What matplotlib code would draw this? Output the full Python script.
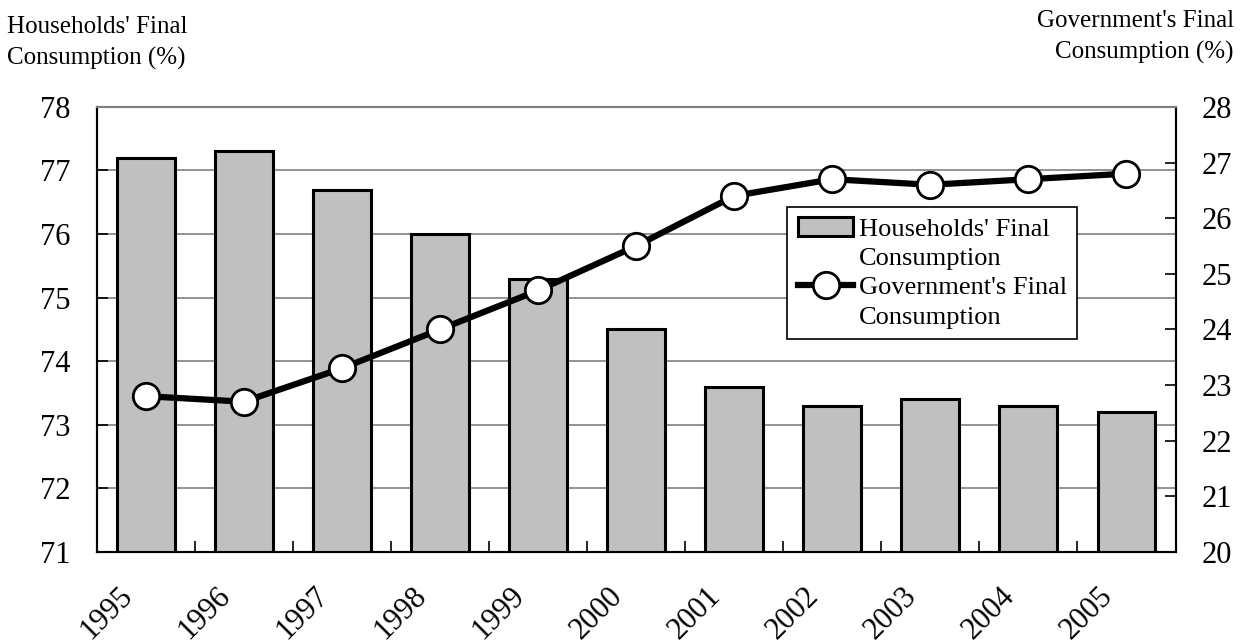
import matplotlib.pyplot as plt
import matplotlib.transforms as mtransforms
from matplotlib.patches import Patch
import numpy as np

plt.rcParams['font.family'] = ['Liberation Serif', 'DejaVu Serif']

years = ['1995', '1996', '1997', '1998', '1999', '2000',
         '2001', '2002', '2003', '2004', '2005']
households = [77.2, 77.3, 76.7, 76.0, 75.3, 74.5, 73.6, 73.3, 73.4, 73.3, 73.2]
government = [22.8, 22.7, 23.3, 24.0, 24.7, 25.5, 26.4, 26.7, 26.6, 26.7, 26.8]

x = np.arange(len(years))

fig = plt.figure(figsize=(12.4, 6.44), dpi=100)
ax = fig.add_axes([0.078, 0.143, 0.870, 0.691])
ax2 = ax.twinx()

# bars on the left axis
bars = ax.bar(x, households, width=0.59, bottom=0, color='#c0c0c0',
              edgecolor='black', linewidth=2.2, zorder=3)
ax.set_ylim(71, 78)
ax.set_xlim(-0.5, len(years) - 0.5)
ax.set_yticks(range(71, 79))
ax.yaxis.grid(True, color='#808080', linewidth=1.2, zorder=0)
ax.set_axisbelow(True)

# line on the right axis
line, = ax2.plot(x, government, color='black', linewidth=4.5, marker='o',
                 markersize=19, markerfacecolor='white', markeredgecolor='black',
                 markeredgewidth=2, zorder=4)
ax2.set_ylim(20, 28)
ax2.set_yticks(range(20, 29))

# x ticks at category boundaries, labels at centres
ax.set_xticks(np.arange(-0.5, len(years), 1.0))
ax.set_xticklabels([])
ax.set_xticks(x, minor=True)
ax.set_xticklabels(years, minor=True, rotation=45, ha='right', va='center',
                   rotation_mode='anchor', fontsize=22)
ax.tick_params(axis='x', which='minor', length=0, pad=0)
ax.tick_params(axis='x', which='major', direction='in', length=8, width=1.2)
ax.tick_params(axis='y', direction='in', length=8, width=1.2, labelsize=22, pad=19)
ax2.tick_params(axis='y', direction='in', length=8, width=1.2, labelsize=22, pad=19)

offset = mtransforms.ScaledTranslation(-0.18, -0.40, fig.dpi_scale_trans)
for lbl in ax.get_xticklabels(minor=True):
    lbl.set_transform(lbl.get_transform() + offset)

for a in (ax, ax2):
    a.spines['top'].set_color('#808080')
    a.spines['top'].set_linewidth(1.5)
    a.spines['left'].set_linewidth(1.5)
    a.spines['right'].set_linewidth(1.5)
    a.spines['bottom'].set_linewidth(1.5)

fig.text(0.006, 1 - 16 / 644, "Households' Final\nConsumption (%)", fontsize=18,
         ha='left', va='top', linespacing=1.5)
fig.text(0.995, 1 - 10 / 644, "Government's Final\nConsumption (%)", fontsize=18,
         ha='right', va='top', linespacing=1.5)

# legend: handles sit on the first line of each two-line label
blank = Patch(facecolor='none', edgecolor='none')
leg = ax2.legend([bars, blank, line, blank],
                 ["Households' Final", "Consumption",
                  "Government's Final", "Consumption"],
                 loc='upper left', bbox_to_anchor=(0.628, 0.805),
                 fontsize=19, frameon=True, fancybox=False, framealpha=1,
                 edgecolor='black', handlelength=2.1, handletextpad=0.2,
                 borderpad=0.4, labelspacing=0.22)
leg.get_frame().set_linewidth(1.2)

fig.savefig('out.png', dpi=100)
